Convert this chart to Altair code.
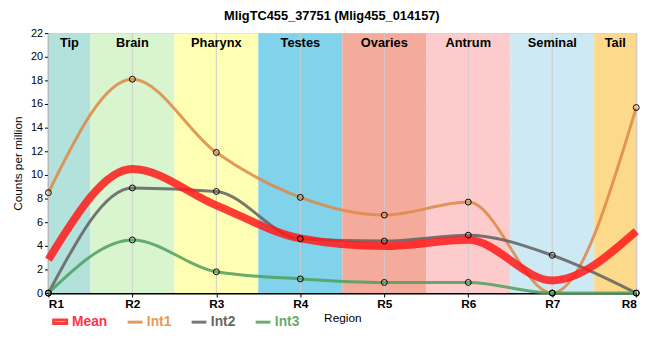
import altair as alt
import pandas as pd

regions = ["R1", "R2", "R3", "R4", "R5", "R6", "R7", "R8"]
positions = [1, 2, 3, 4, 5, 6, 7, 8]
tissues = ["Tip", "Brain", "Pharynx", "Testes", "Ovaries", "Antrum", "Seminal", "Tail"]
tissue_colors = ["#b3e2dc", "#d8f5d0", "#ffffb3", "#80d3ea", "#f4ab9c", "#fdcbcb", "#cdeaf4", "#fdd98c"]

int1 = [8.5, 18.1, 11.9, 8.1, 6.6, 7.7, 0.0, 15.7]
int2 = [0.0, 8.9, 8.6, 4.6, 4.4, 4.9, 3.2, 0.0]
int3 = [0.0, 4.5, 1.8, 1.2, 0.9, 0.9, 0.0, 0.0]
mean = [2.83, 10.5, 7.43, 4.63, 3.97, 4.5, 1.07, 5.23]

series_names = ["Mean", "Int1", "Int2", "Int3"]
series_colors = ["#ff1a1a", "#dd8844", "#606060", "#4f9f5c"]

bands = pd.DataFrame({"tissue": tissues, "pos": positions, "color": tissue_colors})

rows = []
for name, vals in zip(series_names, [mean, int1, int2, int3]):
    for p, v in zip(positions, vals):
        rows.append({"series": name, "pos": p, "value": v})
lines = pd.DataFrame(rows)
mean_df = lines[lines.series == "Mean"]
ind_df = lines[lines.series != "Mean"]

PLOT_W, PLOT_H = 597, 264

x_axis = alt.Axis(values=positions, labelExpr="'R' + datum.value", title="Region",
                  grid=True, gridColor="#cccccc", domainColor="black", domainWidth=2,
                  tickColor="black", labelFontSize=12, labelFontWeight="bold",
                  labelColor="black", titleFontWeight="normal", titleFontSize=12,
                  titleColor="black", titlePadding=3, labelPadding=2, tickSize=4,
                  labelOverlap=False)
y_axis = alt.Axis(values=list(range(0, 23, 2)), title="Counts per million", grid=True,
                  gridColor="#cccccc", domainColor="black", domainWidth=2, tickColor="black",
                  labelFontSize=11, labelColor="black", titleFontWeight="normal",
                  titleFontSize=12, titleColor="black", tickSize=4, labelPadding=2,
                  labelOverlap=False, titlePadding=6)

x_scale = alt.Scale(domain=[1, 8], nice=False, zero=False)
y_scale = alt.Scale(domain=[0, 22], nice=False)

band_layer = alt.Chart(bands).transform_calculate(
    lo="max(datum.pos - 0.5, 1)", hi="min(datum.pos + 0.5, 8)"
).mark_rect(clip=True).encode(
    x=alt.X("lo:Q", scale=x_scale, axis=x_axis),
    x2="hi:Q",
    y=alt.value(0),
    y2=alt.value("height"),
    fill=alt.Fill("color:N", scale=None, legend=None),
)

band_text = alt.Chart(bands).transform_calculate(
    mid="(max(datum.pos - 0.5, 1) + min(datum.pos + 0.5, 8)) / 2"
).mark_text(fontWeight="bold", fontSize=13, baseline="middle", color="black").encode(
    x=alt.X("mid:Q", scale=x_scale, axis=x_axis),
    y=alt.value(10),
    text="tissue:N",
)

grid_layer = alt.Chart(bands).mark_rule(color="#cccccc", strokeWidth=1).encode(
    x=alt.X("pos:Q", scale=x_scale, axis=x_axis)
)

color_scale = alt.Scale(domain=series_names, range=series_colors)
label_expr = ("datum.label == 'Mean' ? '#ff3344' : datum.label == 'Int1' ? '#e8985a' : "
              "datum.label == 'Int2' ? '#666666' : '#6aaa70'")
symbol_expr = "datum.label == 'Mean' ? 'M-2.2,-0.6H2.2V0.6H-2.2Z' : 'M-2.5,0H2.5'"

color_enc = alt.Color("series:N", scale=color_scale, sort=series_names,
                      legend=alt.Legend(title=None, orient="none", legendX=5, legendY=PLOT_H + 22,
                                        direction="horizontal",
                                        symbolType={"expr": symbol_expr},
                                        labelFontSize=14, labelFontWeight="bold",
                                        labelColor={"expr": label_expr},
                                        symbolStrokeWidth=3,
                                        columnPadding=14, symbolSize=36, labelOffset=5,
                                        padding=0))

ind_layer = alt.Chart(ind_df).mark_line(interpolate="monotone", opacity=0.85, strokeWidth=3).encode(
    x=alt.X("pos:Q", scale=x_scale, axis=x_axis),
    y=alt.Y("value:Q", scale=y_scale, axis=y_axis),
    color=color_enc,
)

mean_layer = alt.Chart(mean_df).mark_line(interpolate="monotone", opacity=0.85, strokeWidth=8).encode(
    x=alt.X("pos:Q", scale=x_scale, axis=x_axis),
    y=alt.Y("value:Q", scale=y_scale, axis=y_axis),
    color=color_enc,
)

point_layer = alt.Chart(ind_df).mark_point(shape="circle", size=36, color="black", filled=False,
                                          strokeWidth=1, opacity=1).encode(
    x=alt.X("pos:Q", scale=x_scale, axis=x_axis),
    y=alt.Y("value:Q", scale=y_scale, axis=y_axis),
)

chart = alt.layer(band_layer, grid_layer, band_text, ind_layer, mean_layer, point_layer).properties(
    width=PLOT_W, height=PLOT_H, padding={"left": 3, "top": 0, "right": 0, "bottom": 0},
    title=alt.TitleParams("MligTC455_37751 (Mlig455_014157)", fontSize=13, fontWeight="bold",
                          anchor="middle", frame="bounds", offset=4),
).configure_view(stroke="black", strokeWidth=1).configure(font="Liberation Sans")

chart.save("out.html", embed_options={"renderer": "svg", "actions": False})
